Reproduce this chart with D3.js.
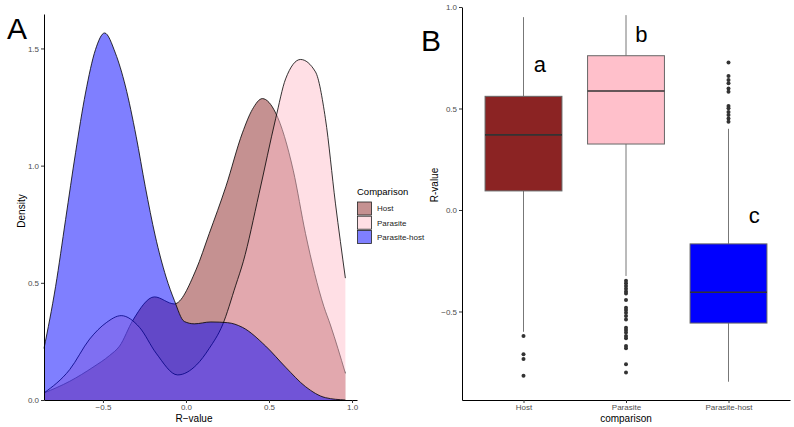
<!DOCTYPE html>
<html>
<head>
<meta charset="utf-8">
<script src="https://cdn.jsdelivr.net/npm/d3@7"></script>
<style>
  body { margin: 0; background: #fff; }
  text { font-family: "Liberation Sans", Arial, sans-serif; }
</style>
</head>
<body>
<div id="chart"></div>
<script>
// Panel A: density curves, [R-value, density]
const groups = ["Host", "Parasite", "Parasite-host"];
const hostDensity = [
  [-0.855, 0.03], [-0.7, 0.08], [-0.56, 0.14], [-0.46, 0.19], [-0.40, 0.23], [-0.32, 0.34],
  [-0.19, 0.44], [-0.07, 0.41], [0.06, 0.555], [0.14, 0.71], [0.24, 0.91], [0.34, 1.14],
  [0.40, 1.24], [0.46, 1.286], [0.54, 1.225], [0.646, 0.98], [0.72, 0.71], [0.83, 0.40],
  [0.87, 0.32], [0.96, 0.114]
];
const parasiteDensity = [
  [-0.855, 0.03], [-0.7, 0.13], [-0.58, 0.26], [-0.48, 0.33], [-0.39, 0.36], [-0.28, 0.31],
  [-0.18, 0.20], [-0.05, 0.107], [0.064, 0.15], [0.14, 0.22], [0.22, 0.32], [0.30, 0.49],
  [0.345, 0.59], [0.44, 0.88], [0.54, 1.20], [0.60, 1.37], [0.69, 1.453], [0.78, 1.40],
  [0.84, 1.20], [0.90, 0.84], [0.96, 0.52]
];
const parasiteHostDensity = [
  [-0.855, 0.22], [-0.785, 0.485], [-0.725, 0.77], [-0.665, 1.055], [-0.605, 1.31],
  [-0.545, 1.495], [-0.49, 1.566], [-0.425, 1.48], [-0.365, 1.34], [-0.30, 1.125],
  [-0.245, 0.91], [-0.185, 0.70], [-0.12, 0.525], [-0.07, 0.425], [-0.01, 0.335],
  [0.05, 0.325], [0.15, 0.333], [0.25, 0.33], [0.34, 0.31], [0.48, 0.23], [0.6, 0.14],
  [0.72, 0.057], [0.84, 0.01], [0.96, 0.0]
];
const xTicksA = [-0.5, 0, 0.5, 1.0];
const yTicksA = [0, 0.5, 1.0, 1.5];

// Panel B: box plot summaries
const categories = ["Host", "Parasite", "Parasite-host"];
const whiskerLow = [-0.60, -0.325, -0.846];
const q1 = [0.094, 0.325, -0.557];
const medians = [0.37, 0.586, -0.405];
const q3 = [0.56, 0.76, -0.167];
const whiskerHigh = [0.95, 0.96, 0.40];
const hostOutliers = [-0.621, -0.711, -0.734, -0.816];
const parasiteOutliers = [-0.348, -0.361, -0.374, -0.388, -0.401, -0.411, -0.443, -0.481,
  -0.493, -0.506, -0.522, -0.539, -0.580, -0.591, -0.604, -0.621, -0.632, -0.670, -0.681,
  -0.760, -0.800];
const parasiteHostOutliers = [0.726, 0.660, 0.640, 0.624, 0.599, 0.583, 0.512, 0.501,
  0.483, 0.468, 0.451, 0.435];
const sigLetters = ["a", "b", "c"];
const letterY = [0.68, 0.83, -0.064];
const yTicksB = [-0.5, 0, 0.5, 1.0];

const densityColors = ["#8B2323", "#FFC0CB", "#0000FF"];
const boxColors = ["#8B2323", "#FFC0CB", "#0000FF"];

const svg = d3.select("#chart").append("svg")
  .attr("width", 794)
  .attr("height", 427);

const fmt = d3.format(".1f");

// ---------- Panel A ----------
const xA = d3.scaleLinear().domain([-0.855, 1.03]).range([44, 357]);
const yA = d3.scaleLinear().domain([0, 1.647]).range([400, 14]);

const area = d3.area()
  .x(d => xA(d[0]))
  .y0(yA(0))
  .y1(d => yA(d[1]))
  .curve(d3.curveMonotoneX);
const line = d3.line()
  .x(d => xA(d[0]))
  .y(d => yA(d[1]))
  .curve(d3.curveMonotoneX);

const gA = svg.append("g");
[hostDensity, parasiteDensity, parasiteHostDensity].forEach((pts, i) => {
  gA.append("path")
    .attr("d", area(pts))
    .attr("fill", densityColors[i])
    .attr("fill-opacity", 0.5);
  gA.append("path")
    .attr("d", line(pts))
    .attr("fill", "none")
    .attr("stroke", "#000")
    .attr("stroke-width", 0.8);
});

const axA_x = gA.append("g")
  .attr("transform", "translate(0,400)")
  .call(d3.axisBottom(xA).tickValues(xTicksA).tickFormat(fmt).tickSize(3).tickSizeOuter(0).tickPadding(1.5));
const axA_y = gA.append("g")
  .attr("transform", "translate(44,0)")
  .call(d3.axisLeft(yA).tickValues(yTicksA).tickFormat(fmt).tickSize(3).tickSizeOuter(0).tickPadding(2));

gA.append("text")
  .attr("x", 194).attr("y", 422)
  .attr("text-anchor", "middle")
  .attr("font-size", 10)
  .text("R\u2212value");
gA.append("text")
  .attr("transform", "translate(25,211) rotate(-90)")
  .attr("text-anchor", "middle")
  .attr("font-size", 10)
  .text("Density");
gA.append("text")
  .attr("x", 7).attr("y", 39)
  .attr("font-size", 30)
  .text("A");

// legend
const legend = gA.append("g");
legend.append("text")
  .attr("x", 357).attr("y", 195)
  .attr("font-size", 9.5)
  .text("Comparison");
groups.forEach((g, i) => {
  legend.append("rect")
    .attr("x", 357.5).attr("y", 202 + i * 14.2)
    .attr("width", 14).attr("height", 13)
    .attr("fill", densityColors[i])
    .attr("fill-opacity", 0.5)
    .attr("stroke", "#222")
    .attr("stroke-width", 0.8);
  legend.append("text")
    .attr("x", 377).attr("y", 208.5 + i * 14.2)
    .attr("dy", "0.35em")
    .attr("font-size", 8)
    .attr("fill", "#222")
    .text(g);
});

// ---------- Panel B ----------
const xB = d3.scalePoint().domain(categories).range([462, 790]).padding(0.6);
const yB = d3.scaleLinear().domain([-0.936, 1.0]).range([400, 7]);
const boxW = xB.step() * 0.75;

const gB = svg.append("g");
const outlierSets = [hostOutliers, parasiteOutliers, parasiteHostOutliers];

categories.forEach((c, i) => {
  const cx = xB(c);
  // whiskers
  gB.append("line")
    .attr("x1", cx).attr("x2", cx)
    .attr("y1", yB(whiskerHigh[i])).attr("y2", yB(q3[i]))
    .attr("stroke", "#777").attr("stroke-width", 1);
  gB.append("line")
    .attr("x1", cx).attr("x2", cx)
    .attr("y1", yB(q1[i])).attr("y2", yB(whiskerLow[i]))
    .attr("stroke", "#777").attr("stroke-width", 1);
  // box
  gB.append("rect")
    .attr("x", cx - boxW / 2).attr("y", yB(q3[i]))
    .attr("width", boxW).attr("height", yB(q1[i]) - yB(q3[i]))
    .attr("fill", boxColors[i])
    .attr("stroke", "#666").attr("stroke-width", 1);
  gB.append("line")
    .attr("x1", cx - boxW / 2).attr("x2", cx + boxW / 2)
    .attr("y1", yB(medians[i])).attr("y2", yB(medians[i]))
    .attr("stroke", "#333").attr("stroke-width", 1.6);
  // outliers
  gB.selectAll(null)
    .data(outlierSets[i])
    .enter()
    .append("circle")
    .attr("cx", cx)
    .attr("cy", d => yB(d))
    .attr("r", 2)
    .attr("fill", "#333");
});

const letterDx = [0.16, 0.15, 0.25];
categories.forEach((c, i) => {
  gB.append("text")
    .attr("x", xB(c) + letterDx[i] * xB.step())
    .attr("y", yB(letterY[i]))
    .attr("text-anchor", "middle")
    .attr("font-size", 22)
    .text(sigLetters[i]);
});

const axB_x = gB.append("g")
  .attr("transform", "translate(0,400)")
  .call(d3.axisBottom(xB).tickSize(3).tickSizeOuter(0).tickPadding(1.5));
const axB_y = gB.append("g")
  .attr("transform", "translate(462,0)")
  .call(d3.axisLeft(yB).tickValues(yTicksB).tickFormat(fmt).tickSize(3).tickSizeOuter(0).tickPadding(2));

gB.append("text")
  .attr("x", 626).attr("y", 422)
  .attr("text-anchor", "middle")
  .attr("font-size", 10)
  .text("comparison");
gB.append("text")
  .attr("transform", "translate(438,185) rotate(-90)")
  .attr("text-anchor", "middle")
  .attr("font-size", 10)
  .text("R-value");
gB.append("text")
  .attr("x", 421).attr("y", 51)
  .attr("font-size", 30)
  .text("B");

// axis styling like ggplot classic
[axA_x, axA_y, axB_x, axB_y].forEach(ax => {
  ax.select(".domain").attr("stroke", "#000").attr("stroke-width", 1);
  ax.selectAll(".tick line").attr("stroke", "#333");
  ax.selectAll(".tick text")
    .attr("font-size", 8)
    .attr("fill", "#4d4d4d")
    .attr("font-family", "Liberation Sans, Arial, sans-serif");
});
</script>
</body>
</html>
